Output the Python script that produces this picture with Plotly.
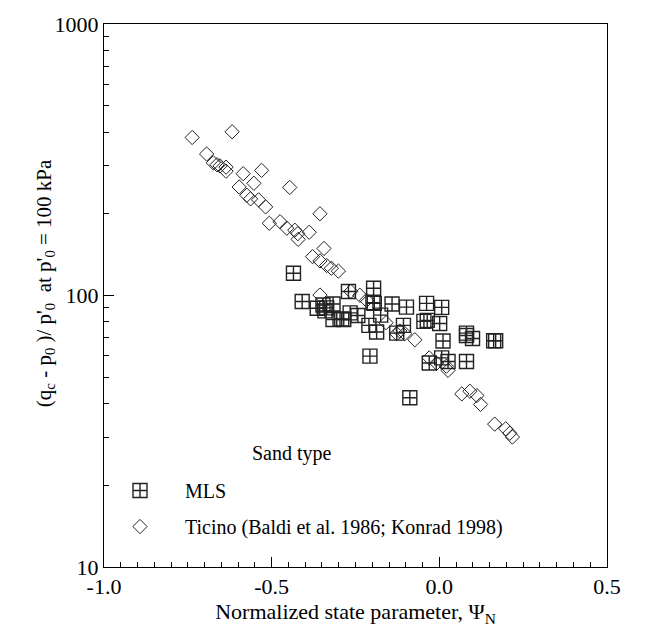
import plotly.graph_objects as go

# Ticino sand (Baldi et al. 1986; Konrad 1998)
ticino_x = [-0.737, -0.618, -0.694, -0.674, -0.663, -0.654, -0.636, -0.636, -0.585, -0.530,
            -0.597, -0.553, -0.574, -0.563, -0.539, -0.518, -0.446, -0.507, -0.475, -0.455,
            -0.431, -0.422, -0.388, -0.421, -0.356, -0.344, -0.378, -0.356, -0.336, -0.322,
            -0.301, -0.356, -0.264, -0.237, -0.217, -0.159, -0.127, -0.118, -0.103, -0.073,
            -0.030, -0.008, 0.021, 0.026, 0.067, 0.091, 0.112, 0.123, 0.165, 0.198, 0.210, 0.218]
ticino_y = [382, 401, 332, 308, 303, 300, 297, 287, 281, 289,
            251, 259, 234, 227, 225, 212, 250, 184.5, 187, 177,
            174, 169, 171, 161, 200, 149, 139, 134, 129, 126,
            123, 100.4, 103.5, 100.2, 96, 79.4, 72.3, 74, 72.4, 68.7,
            58.9, 56.3, 54.9, 53, 43.4, 44.4, 42.8, 39.7, 33.6, 32.3, 31.1, 30.1]

# MLS sand
mls_x = [-0.435, -0.409, -0.364, -0.347, -0.341, -0.336, -0.317, -0.317, -0.291, -0.285,
         -0.266, -0.271, -0.243, -0.196, -0.198, -0.194, -0.175, -0.210, -0.187, -0.141,
         -0.098, -0.107, -0.127, -0.038, 0.007, -0.046, -0.036, 0.001, 0.011, 0.081,
         0.081, 0.099, 0.162, 0.168, -0.207, 0.007, -0.030, 0.026, 0.081, -0.088]
mls_y = [120.8, 95, 89.7, 92.3, 87.8, 90, 93, 81.6, 82, 81.6,
         86.3, 103.4, 84.4, 106.4, 94, 93.5, 84.7, 77.6, 73.4, 93.1,
         90.6, 77.6, 72.7, 93.5, 90.4, 80.3, 81, 78.9, 68, 72.7,
         71.2, 69.4, 68.1, 68.1, 59.8, 58.9, 56.4, 57.1, 57.1, 42]

x_ticks = [-1.0, -0.5, 0.0, 0.5]
x_tick_labels = ["-1.0", "-0.5", "0.0", "0.5"]
y_ticks = [10, 100, 1000]
y_tick_labels = ["10", "100", "1000"]
y_minor = [20, 30, 40, 50, 60, 70, 80, 90, 200, 300, 400, 500, 600, 700, 800, 900]

FONT = "Liberation Serif"
INK = "#222222"

fig = go.Figure()
fig.add_trace(go.Scatter(
    x=mls_x, y=mls_y, mode="markers", name="MLS", legendgroup="mls",
    marker=dict(symbol="square-cross-open", size=14, color=INK, line=dict(width=1.4, color=INK)),
))
fig.add_trace(go.Scatter(
    x=ticino_x, y=ticino_y, mode="markers", name="Ticino (Baldi et al. 1986; Konrad 1998)",
    legendgroup="ticino",
    marker=dict(symbol="diamond-open", size=11, color=INK, line=dict(width=1, color=INK)),
))

fig.add_annotation(
    text="Sand type", xref="paper", yref="paper",
    x=(292 - 104) / 503, y=(567 - 452) / 549, xanchor="center", yanchor="middle",
    showarrow=False, font=dict(family=FONT, size=20, color="black"),
)
fig.add_annotation(
    text="(q<sub>c</sub> - p<sub>0</sub> )/ p'<sub>0</sub>  at p'<sub>0</sub> = 100 kPa",
    xref="paper", yref="paper", x=(45 - 104) / 503, y=(567 - 280) / 549,
    xanchor="center", yanchor="middle", textangle=-90, showarrow=False,
    font=dict(family=FONT, size=21, color="black"),
)

fig.update_layout(
    width=669, height=634,
    margin=dict(l=104, r=62, t=18, b=67),
    paper_bgcolor="white", plot_bgcolor="white",
    font=dict(family=FONT, size=20, color="black"),
    showlegend=True,
    legend=dict(
        x=(95 - 104) / 503, y=(567 - 470) / 549, xanchor="left", yanchor="top",
        bgcolor="rgba(0,0,0,0)", font=dict(family=FONT, size=20, color="black"),
        itemwidth=80, tracegroupgap=7,
    ),
)
fig.update_xaxes(
    range=[-1.0, 0.5], tickvals=x_ticks, ticktext=x_tick_labels,
    ticks="inside", ticklen=10, tickwidth=1, tickcolor="black",
    minor=dict(dtick=0.05, ticks="inside", ticklen=5, tickwidth=1, tickcolor="black", showgrid=False),
    showline=True, linecolor="black", linewidth=1, mirror=True,
    showgrid=False, zeroline=False,
    tickfont=dict(family=FONT, size=22, color="black"),
    title=dict(text="Normalized state parameter, \u03a8<sub>N</sub>", font=dict(family=FONT, size=22), standoff=2),
)
fig.update_yaxes(
    type="log", range=[1, 3], tickvals=y_ticks, ticktext=y_tick_labels,
    ticks="inside", ticklen=10, tickwidth=1, tickcolor="black",
    minor=dict(tickvals=y_minor, ticks="inside", ticklen=5, tickwidth=1, tickcolor="black", showgrid=False),
    showline=True, linecolor="black", linewidth=1, mirror=True,
    showgrid=False, zeroline=False,
    tickfont=dict(family=FONT, size=22, color="black"),
)

fig.write_html("out.html")
